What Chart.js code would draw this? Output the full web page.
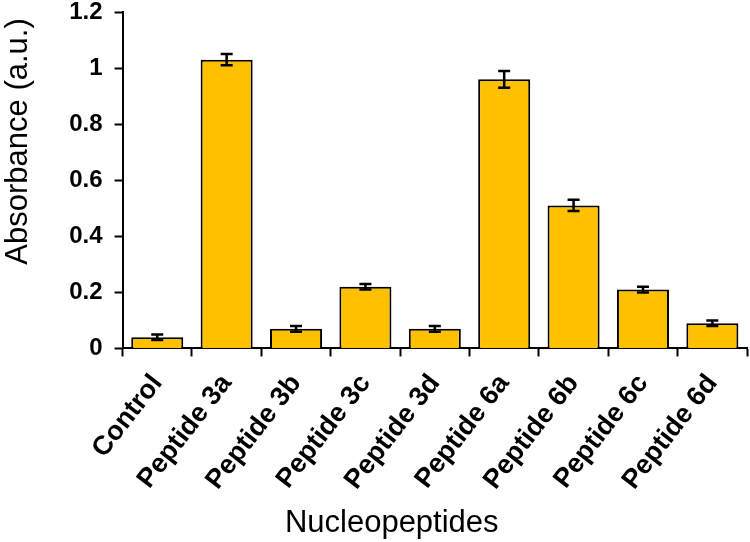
<!DOCTYPE html>
<html>
<head>
<meta charset="utf-8">
<script src="https://cdn.jsdelivr.net/npm/chart.js@4"></script>
<style>
  body { margin: 0; background: #fff; }
  #wrap { width: 750px; height: 542px; }
</style>
</head>
<body>
<div id="wrap"><canvas id="absChart"></canvas></div>
<script>
// values
const peptideLabels = ['Control', 'Peptide 3a', 'Peptide 3b', 'Peptide 3c', 'Peptide 3d',
    'Peptide 6a', 'Peptide 6b', 'Peptide 6c', 'Peptide 6d'];
const absorbance = [0.04, 1.03, 0.07, 0.22, 0.07, 0.96, 0.51, 0.21, 0.09];
const absorbanceErr = [0.01, 0.02, 0.01, 0.01, 0.01, 0.03, 0.02, 0.01, 0.01];
const yTicks = [0, 0.2, 0.4, 0.6, 0.8, 1, 1.2];

const fontFam = '"Liberation Sans", Arial, sans-serif';

// draws the +/- error whiskers on top of each bar
const errorBars = {
    id: 'errorBars',
    afterDatasetsDraw(chart) {
        let ctx = chart.ctx;
        let yScale = chart.scales.y;
        let meta = chart.getDatasetMeta(0);
        ctx.save();
        ctx.strokeStyle = '#000';
        ctx.lineWidth = 2.5;
        meta.data.forEach((bar, i) => {
            let top = yScale.getPixelForValue(absorbance[i] + absorbanceErr[i]);
            let bottom = yScale.getPixelForValue(absorbance[i] - absorbanceErr[i]);
            let cap = 6;
            ctx.beginPath();
            ctx.moveTo(bar.x, top);
            ctx.lineTo(bar.x, bottom);
            ctx.moveTo(bar.x - cap, top);
            ctx.lineTo(bar.x + cap, top);
            ctx.moveTo(bar.x - cap, bottom);
            ctx.lineTo(bar.x + cap, bottom);
            ctx.stroke();
        });
        ctx.restore();
    }
};

const data = {
    labels: peptideLabels,
    datasets: [{
            label: 'Absorbance',
            data: absorbance,
            backgroundColor: '#FFC000',
            borderColor: '#000',
            borderWidth: 2,
            categoryPercentage: 1,
            barPercentage: 0.75
        }]
};

const config = {
    type: 'bar',
    data: data,
    plugins: [errorBars],
    options: {
        responsive: true,
        maintainAspectRatio: false,
        animation: false,
        layout: {padding: {top: 0, right: 2, bottom: 3, left: 0}},
        plugins: {
            legend: {display: false},
            tooltip: {enabled: false}
        },
        scales: {
            x: {
                grid: {display: true, drawOnChartArea: false, drawTicks: true, tickLength: 8,
                    tickColor: '#000', tickWidth: 2, offset: true},
                border: {color: '#000', width: 2},
                ticks: {
                    color: '#000',
                    minRotation: 52,
                    maxRotation: 52,
                    padding: 12,
                    font: {family: fontFam, size: 27, weight: 'bold'}
                },
                title: {
                    display: true,
                    // trailing spaces nudge the centred title left, as in the figure
                    text: 'Nucleopeptides' + ' '.repeat(10),
                    color: '#000',
                    padding: {top: 0, bottom: 0},
                    font: {family: fontFam, size: 31, lineHeight: 1}
                }
            },
            y: {
                min: 0,
                max: 1.2,
                afterBuildTicks: (axis) => {
                    axis.ticks = yTicks.map(v => ({value: v}));
                },
                afterFit: (axis) => {
                    // tick padding otherwise adds extra room above the top label
                    axis.paddingTop = 12;
                    axis.paddingBottom = 12;
                },
                grid: {display: true, drawOnChartArea: false, drawTicks: true, tickLength: 8,
                    tickColor: '#000', tickWidth: 2},
                border: {color: '#000', width: 2},
                ticks: {
                    color: '#000',
                    padding: 12,
                    callback: (v) => String(v),
                    font: {family: fontFam, size: 24, weight: 'bold'}
                },
                title: {
                    display: true,
                    // leading spaces lift the rotated title, as in the figure
                    text: ' '.repeat(9) + 'Absorbance (a.u.)',
                    color: '#000',
                    padding: {top: 0, bottom: 20},
                    font: {family: fontFam, size: 31}
                }
            }
        }
    }
};

let idAbsChart = document.getElementById('absChart').getContext('2d');
new Chart(idAbsChart, config);
</script>
</body>
</html>
